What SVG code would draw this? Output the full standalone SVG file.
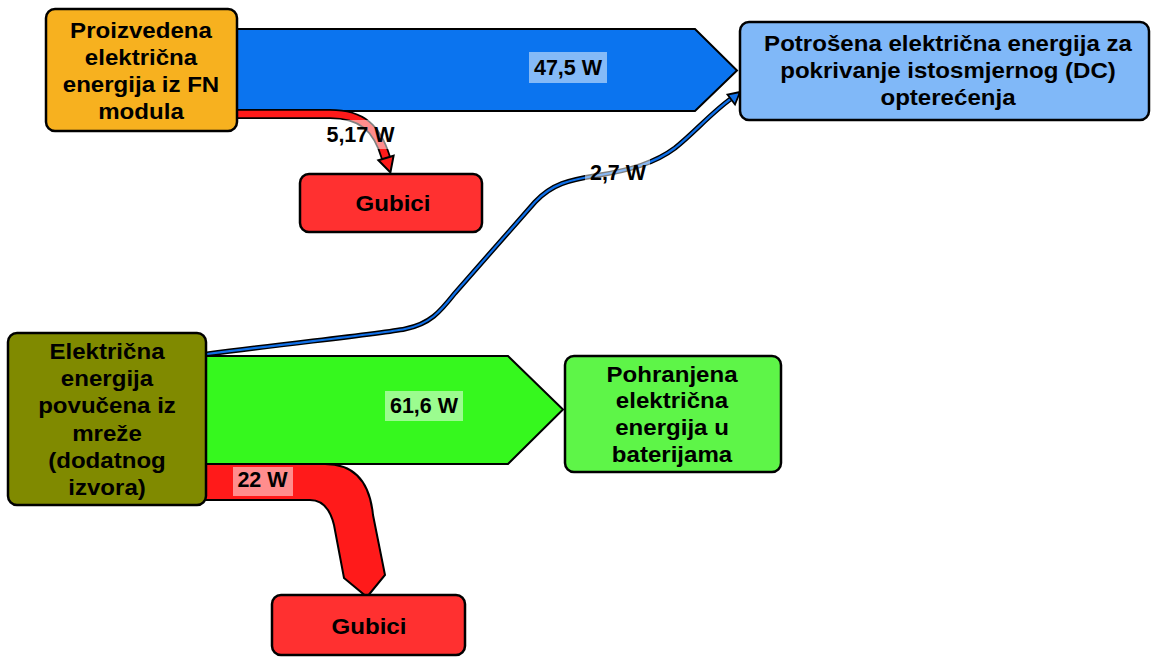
<svg xmlns="http://www.w3.org/2000/svg" width="1151" height="657" viewBox="0 0 1151 657">
<style>
.node{stroke:#000;stroke-width:2.5}
.nt{font-family:"Liberation Sans",Arial,sans-serif;font-weight:bold;font-size:21.5px;fill:#000;text-anchor:middle}
.lt{font-family:"Liberation Sans",Arial,sans-serif;font-weight:bold;font-size:21.5px;fill:#000;text-anchor:middle}
.lb{fill:#fff;fill-opacity:0.5}
.flow{stroke:#000;stroke-width:2;stroke-linejoin:miter}
</style>
<rect width="1151" height="657" fill="#fff"/>
<g id="connectors">
  <polygon class="flow" fill="#0B74EF" points="237,29 695,29 737,70.5 695,111 237,111"/>
  <polygon class="flow" fill="#36F81E" points="205,356 508,356 563,409.5 508,464 205,464"/>
  <path class="flow" fill="#FF1A1A" d="M205,464 H325 Q368,464 373,515 L385,575 L367,597 L344,578 L334,525 Q328,500 310,500 H205 Z"/>
  <path d="M236,114 H330 C362,114 377,128 386,158" fill="none" stroke="#000" stroke-width="10"/>
  <path d="M236,114 H330 C362,114 377,128 386,158" fill="none" stroke="#FF1A1A" stroke-width="6.5"/>
  <polygon points="378.4,160.3 390.4,172.4 393.6,155.7" fill="#FF1A1A" stroke="#000" stroke-width="2" stroke-linejoin="miter"/>
  <path d="M207,354 C300,342 380,334 405,329 C430,324 440,312 455,293 L535,202 C552,184 568,180 600,175 C630,170 655,163 675,148 C695,132 712,112 732,98" fill="none" stroke="#000" stroke-width="5"/>
  <path d="M207,354 C300,342 380,334 405,329 C430,324 440,312 455,293 L535,202 C552,184 568,180 600,175 C630,170 655,163 675,148 C695,132 712,112 732,98" fill="none" stroke="#1070E8" stroke-width="2.2"/>
  <polygon points="740,92 727.5,94.5 735,104.5" fill="#1070E8" stroke="#000" stroke-width="1.8"/>
  <rect class="lb" x="529" y="52" width="78" height="31"/>
  <text class="lt" x="568" y="75">47,5 W</text>
  <rect class="lb" x="322" y="120" width="76" height="29"/>
  <text class="lt" x="360.5" y="141.7">5,17 W</text>
  <rect class="lb" x="585" y="158" width="65" height="29"/>
  <text class="lt" x="618" y="180">2,7 W</text>
  <rect class="lb" x="385" y="391" width="78" height="30"/>
  <text class="lt" x="424" y="413">61,6 W</text>
  <rect class="lb" x="233" y="467" width="60" height="29"/>
  <text class="lt" x="262.5" y="486.5">22 W</text>
</g>
<g id="node-fn">
  <rect class="node" x="46" y="9" width="191" height="122" rx="9" fill="#F7B11F"/>
  <g class="nt" transform="translate(141,0) scale(1.12,1)">
    <text x="0" y="38">Proizvedena</text>
    <text x="0" y="65">električna</text>
    <text x="0" y="92">energija iz FN</text>
    <text x="0" y="119">modula</text>
  </g>
</g>
<g id="node-dc">
  <rect class="node" x="740" y="22" width="409" height="98" rx="9" fill="#80B8F8"/>
  <g class="nt" transform="translate(948,0) scale(1.12,1)">
    <text x="0" y="51">Potrošena električna energija za</text>
    <text x="0" y="78.3">pokrivanje istosmjernog (DC)</text>
    <text x="0" y="105.3">opterećenja</text>
  </g>
</g>
<g id="node-gubici1">
  <rect class="node" x="300" y="174" width="182" height="58" rx="9" fill="#FF3030"/>
  <g class="nt" transform="translate(393,0) scale(1.12,1)">
    <text x="0" y="211">Gubici</text>
  </g>
</g>
<g id="node-mreza">
  <rect class="node" x="8" y="333" width="198" height="172" rx="9" fill="#808A00"/>
  <g class="nt" transform="translate(107,0) scale(1.12,1)">
    <text x="0" y="359">Električna</text>
    <text x="0" y="386">energija</text>
    <text x="0" y="413">povučena iz</text>
    <text x="0" y="440.7">mreže</text>
    <text x="0" y="467.7">(dodatnog</text>
    <text x="0" y="495">izvora)</text>
  </g>
</g>
<g id="node-baterije">
  <rect class="node" x="565" y="356" width="216" height="116" rx="9" fill="#5EF548"/>
  <g class="nt" transform="translate(672,0) scale(1.12,1)">
    <text x="0" y="381.7">Pohranjena</text>
    <text x="0" y="408.3">električna</text>
    <text x="0" y="435">energija u</text>
    <text x="0" y="461.7">baterijama</text>
  </g>
</g>
<g id="node-gubici2">
  <rect class="node" x="272" y="595" width="193" height="60" rx="9" fill="#FF3030"/>
  <g class="nt" transform="translate(369,0) scale(1.12,1)">
    <text x="0" y="634">Gubici</text>
  </g>
</g>
</svg>
